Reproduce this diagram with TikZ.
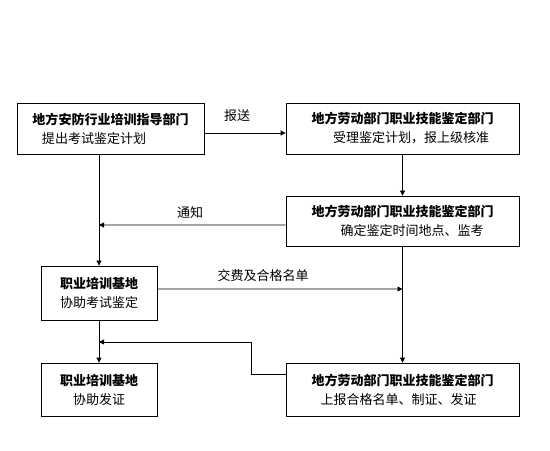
\documentclass[tikz,border=0pt]{standalone}
\usepackage{fontspec}
\setmainfont{Noto Sans CJK SC}
\usetikzlibrary{arrows.meta,positioning}

\begin{document}
\begin{tikzpicture}[x=1bp, y=-1bp,
    box/.style={draw, line width=0.8bp, inner sep=0pt, align=center, minimum width=233bp, minimum height=51bp, font=\fontsize{13bp}{19bp}\selectfont},
    arr/.style={line width=0.8bp, -{Triangle[length=5bp,width=5bp]}},
    lbl/.style={font=\fontsize{13bp}{15bp}\selectfont}]
    \useasboundingbox (0,0) rectangle (550,451);

    % Draw boxes
    \node[box, minimum width=187bp] (plan) at (110.5,128.5) {\textbf{地方安防行业培训指导部门}\\提出考试鉴定计划\kern33bp};
    \node[box] (accept) at (402.5,128.5) {\textbf{地方劳动部门职业技能鉴定部门}\\\kern17bp受理鉴定计划，报上级核准};
    \node[box, minimum height=50bp] (fix) at (402.5,221) {\textbf{地方劳动部门职业技能鉴定部门}\\\kern19bp确定鉴定时间地点、监考};
    \node[box, minimum width=116bp, minimum height=54bp] (exam) at (99,293) {\textbf{职业培训基地}\\协助考试鉴定};
    \node[box, minimum width=116bp, minimum height=53bp] (cert) at (99,389.5) {\textbf{职业培训基地}\\协助发证};
    \node[box, minimum height=53bp] (report) at (402.5,389.5) {\textbf{地方劳动部门职业技能鉴定部门}\\上报合格名单、制证、发证\kern8bp};

    % Points where arrows meet a line
    \coordinate (notify) at (99,225);
    \coordinate (feed) at (402.5,289);
    \coordinate (back) at (99,342);

    % Draw connectors
    \draw[arr] ([yshift=-4.5bp]plan.east) -- ([yshift=-4.5bp]accept.west);
    \draw[arr] (accept.south) -- (fix.north);
    \draw[arr] ([yshift=-4bp]fix.west) -- (notify);
    \draw[arr] (plan.south -| exam.north) -- (exam.north);
    \draw[arr] ([yshift=4bp]exam.east) -- (feed);
    \draw[arr] (fix.south) -- (report.north);
    \draw[arr] ([yshift=15.5bp]report.west) -- ++(-34bp,0) |- (back);
    \draw[arr] (exam.south) -- (cert.north);

    % Connector labels
    \node[lbl] (send) at (237,116) {报送};
    \node[lbl] (tell) at (190,213) {通知};
    \node[lbl] (fee) at (263,276) {交费及合格名单};
\end{tikzpicture}
\end{document}
